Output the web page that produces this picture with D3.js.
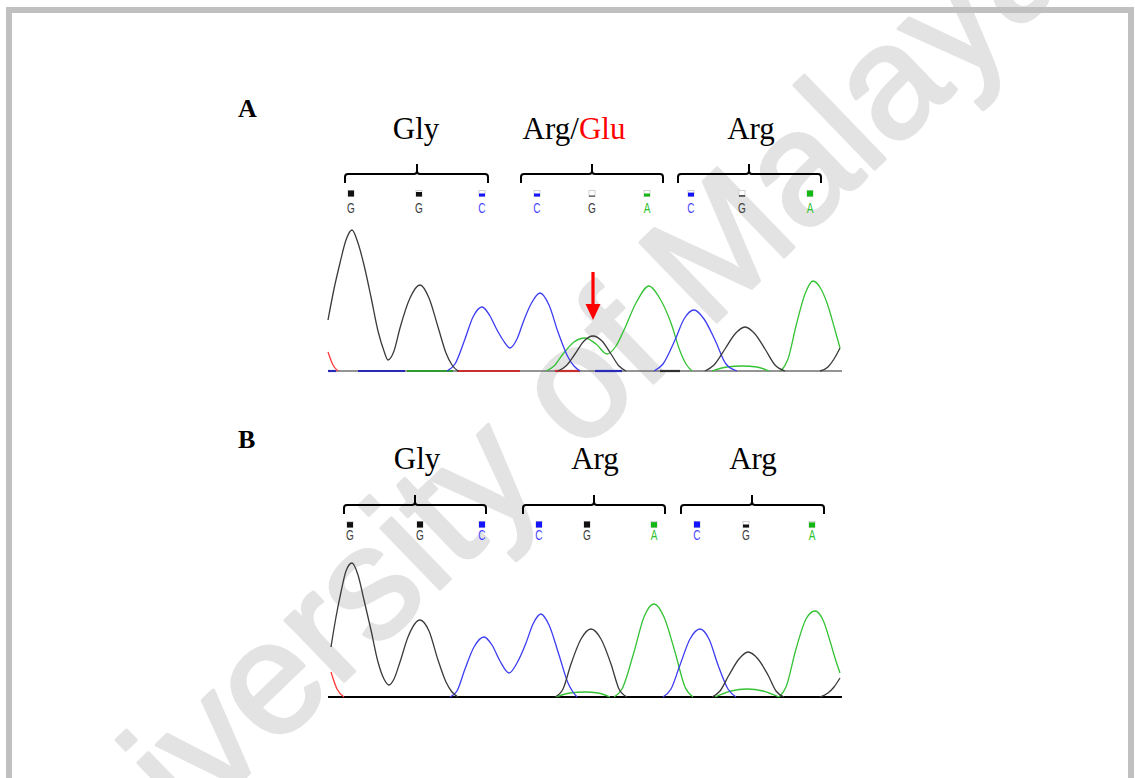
<!DOCTYPE html>
<html><head><meta charset="utf-8">
<script src="https://cdn.jsdelivr.net/npm/d3@7"></script>
<style>html,body{margin:0;padding:0;background:#fff;} svg{display:block;}</style>
</head><body>
<svg id="chart" width="1135" height="778"></svg>
<script>
// ---- Panel A: heterozygous sample. [scan position, signal] per dye channel, split into peak runs
const blackA = [
  [[0,51],[6,82],[12,108],[18,131],[24,141],[30,128],[36,106],[43,74],[50,40],[56,20],[60,11],[66,20],[72,43],[82,73],[92,86],[101,73],[110,44],[118,18],[124,6],[130,0]],
  [[230,0],[238,5],[247,17],[256,30],[265,35],[274,30],[283,17],[291,5],[298,0]],
  [[377,0],[386,6],[397,22],[407,37],[417,44],[427,37],[437,22],[447,6],[457,0]],
  [[492,0],[500,4],[506,12],[512,23]]
];
const blueA = [
  [[119,0],[127,7],[137,32],[145,54],[154,64],[162,55],[168,43],[175,31],[182,23],[189,32],[196,51],[203,67],[212,78],[221,66],[230,39],[240,14],[246,5],[252,0]],
  [[326,0],[335,7],[347,31],[356,52],[366,61],[376,52],[387,31],[398,7],[409,0]]
];
const greenA = [
  [[218,0],[226,5],[235,17],[246,29],[257,33],[268,27],[279,17],[288,25],[296,41],[308,68],[321,85],[331,74],[343,48],[352,20],[358,7],[364,0]],
  [[384,0],[399,4],[414,5],[429,4],[441,0]],
  [[453,0],[460,12],[468,45],[477,77],[485,90],[493,82],[499,68],[507,41],[512,23]]
];
const redA = [
  [[0,19],[5,6],[10,0]]
];
// flat stretches of each channel lying on the baseline: [from, to]
const baseRunsA = [
  {dye:"blue", runs:[[0,8],[30,77],[267,294]]},
  {dye:"green", runs:[[79,125]]},
  {dye:"red", runs:[[129,192],[227,252]]},
  {dye:"black", runs:[[332,352]]}
];

// ---- Panel B: wild-type sample
const blackB = [
  [[3,50],[8,80],[13,105],[18,126],[24,134],[30,122],[36,97],[43,67],[50,35],[56,18],[61,12],[66,18],[72,35],[80,60],[92,77],[101,66],[110,37],[118,15],[124,5],[130,0]],
  [[227,0],[235,8],[243,33],[253,58],[263,68],[273,58],[283,33],[291,8],[299,0]],
  [[384,0],[392,6],[401,22],[411,38],[420,45],[430,38],[440,22],[448,6],[456,0]],
  [[492,0],[500,4],[506,10],[512,19]]
];
const blueB = [
  [[122,0],[129,6],[137,28],[146,50],[156,60],[164,52],[172,36],[181,24],[189,34],[198,54],[205,73],[213,83],[221,72],[231,42],[240,14],[245,5],[249,0]],
  [[335,0],[343,8],[352,32],[362,58],[372,68],[381,58],[390,32],[400,8],[408,0]]
];
const greenB = [
  [[228,0],[242,4],[257,5],[270,4],[282,0]],
  [[286,0],[294,8],[306,45],[316,80],[326,93],[336,80],[347,45],[357,10],[365,0]],
  [[387,0],[403,6],[419,8],[435,6],[451,0]],
  [[451,0],[458,10],[468,48],[478,78],[487,86],[495,77],[502,56],[507,39],[512,24]]
];
const redB = [
  [[3,25],[9,8],[16,0]]
];

// ---- Base calls: letter, scan position, call quality (0..1)
const basesA = ["G","G","C","C","G","A","C","G","A"];
const basePosA = [23, 91, 154, 209, 264, 319, 363, 414, 482];
const qualA = [1, 0.75, 0.5, 0.5, 0.15, 0.5, 0.65, 0.2, 1];
const basesB = ["G","G","C","C","G","A","C","G","A"];
const basePosB = [22, 92, 154, 211, 259, 326, 369, 418, 484];
const qualB = [0.9, 1, 1, 1, 1, 0.9, 1, 0.5, 0.85];

// ---- Codons: label pieces, bracket span [from, to, centre] in scan positions
const codonsA = [
  {label:[["Gly","#000"]], span:[17,160,89], at:88},
  {label:[["Arg/","#000"],["Glu","#ff0000"]], span:[193,335,264], at:246},
  {label:[["Arg","#000"]], span:[350,493,421], at:423}
];
const codonsB = [
  {label:[["Gly","#000"]], span:[16,158,87], at:89},
  {label:[["Arg","#000"]], span:[195,337,266], at:267},
  {label:[["Arg","#000"]], span:[353,496,424], at:425}
];
// heterozygous position marked with the arrow: [scan position, signal]
const mutationA = [265, 35];

const dyeColor = {black:"#3a3a3a", blue:"#3c3cf2", green:"#34c234", red:"#ff3a3a"};
const baseRunColor = {black:"#303030", blue:"#2a2ab8", green:"#2f9a2f", red:"#c83030"};
const letterColor = {G:"#404040", C:"#4848ff", A:"#2cc02c"};

const svg = d3.select("#chart");
svg.append("rect").attr("width",1135).attr("height",778).attr("fill","#fff");

// watermark
svg.append("text")
  .attr("transform","translate(42,973) rotate(-44)")
  .attr("font-family","'Liberation Sans', Arial, sans-serif")
  .attr("font-size",160)
  .attr("fill","#e3e3e3")
  .attr("stroke","#e3e3e3").attr("stroke-width",3.5).attr("stroke-linejoin","round")
  .text("University of Malaya");

// page frame
svg.append("rect").attr("x",9).attr("y",10).attr("width",1122).attr("height",820)
  .attr("fill","none").attr("stroke","#c0c0c0").attr("stroke-width",6);

const x = d3.scaleLinear().domain([0,514]).range([328,842]);
const yA = d3.scaleLinear().domain([0,150]).range([371,221]);
const yB = d3.scaleLinear().domain([0,150]).range([697,547]);

function drawPanel(opt){
  const g = svg.append("g");
  const y = opt.y;
  const line = d3.line().x(d=>x(d[0])).y(d=>y(d[1])).curve(d3.curveMonotoneX);

  // baseline
  g.append("line").attr("x1",x(0)).attr("x2",x(514)).attr("y1",y(0)).attr("y2",y(0))
    .attr("stroke",opt.baseColor).attr("stroke-width",opt.baseWidth);
  (opt.baseRuns||[]).forEach(r=>{
    r.runs.forEach(s=>{
      g.append("line").attr("x1",x(s[0])).attr("x2",x(s[1])).attr("y1",y(0)).attr("y2",y(0))
        .attr("stroke",baseRunColor[r.dye]).attr("stroke-width",2.2);
    });
  });

  // traces
  [["red",opt.red],["green",opt.green],["blue",opt.blue],["black",opt.black]].forEach(([dye,runs])=>{
    g.selectAll(null).data(runs).enter().append("path")
      .attr("d",line).attr("fill","none")
      .attr("stroke",dyeColor[dye]).attr("stroke-width",1.3);
  });

  // base call markers and letters
  opt.bases.forEach((b,i)=>{
    const cx = x(opt.pos[i]);
    const col = b==="G" ? "#111" : (b==="C" ? "#1414ff" : "#14b814");
    g.append("rect").attr("x",cx-3).attr("y",opt.sqY).attr("width",6).attr("height",6)
      .attr("fill","#fff").attr("stroke","#c8c8c8").attr("stroke-width",0.8);
    const h = 6*opt.qual[i];
    g.append("rect").attr("x",cx-3).attr("y",opt.sqY+6-h).attr("width",6).attr("height",h)
      .attr("fill",col);
    g.append("text").attr("transform",`translate(${cx},${opt.letterY}) scale(0.72,1)`)
      .attr("text-anchor","middle")
      .attr("font-family","'Liberation Sans', Arial, sans-serif").attr("font-size",14)
      .attr("fill",letterColor[b]).text(b);
  });

  // codon brackets and amino-acid labels
  opt.codons.forEach(c=>{
    const [a,bEnd,m] = c.span.map(x);
    const t = opt.brTop, e = opt.brTop+9, k = opt.brTop-10;
    const p = `M${a},${e} L${a},${t+3} Q${a},${t} ${a+3},${t} L${m-3},${t} Q${m},${t} ${m},${t-3} L${m},${k} M${m},${t-3} Q${m},${t} ${m+3},${t} L${bEnd-3},${t} Q${bEnd},${t} ${bEnd},${t+3} L${bEnd},${e}`;
    g.append("path").attr("d",p).attr("fill","none").attr("stroke","#000").attr("stroke-width",2);
    const tx = g.append("text").attr("x",x(c.at)).attr("y",opt.labelY)
      .attr("text-anchor","middle")
      .attr("font-family","'Liberation Serif','Times New Roman',serif").attr("font-size",31);
    c.label.forEach(([s,col])=>tx.append("tspan").attr("fill",col).text(s));
  });

  // panel letter
  g.append("text").attr("x",238).attr("y",opt.tagY)
    .attr("font-family","'Liberation Serif','Times New Roman',serif")
    .attr("font-weight","bold").attr("font-size",26).text(opt.tag);
  return g;
}

drawPanel({y:yA, black:blackA, blue:blueA, green:greenA, red:redA, baseRuns:baseRunsA,
  baseColor:"#707070", baseWidth:1.6, bases:basesA, pos:basePosA, qual:qualA,
  sqY:190.5, letterY:213, codons:codonsA, brTop:174, labelY:139, tag:"A", tagY:117});
drawPanel({y:yB, black:blackB, blue:blueB, green:greenB, red:redB, baseRuns:[],
  baseColor:"#000", baseWidth:2, bases:basesB, pos:basePosB, qual:qualB,
  sqY:521.5, letterY:540, codons:codonsB, brTop:505, labelY:469, tag:"B", tagY:448});

// arrow pointing at the double peak
const ax = x(mutationA[0]);
const tip = yA(mutationA[1]) - 16;
svg.append("line").attr("x1",ax).attr("x2",ax).attr("y1",tip-48).attr("y2",tip-14)
  .attr("stroke","#ff0000").attr("stroke-width",3.2);
svg.append("path").attr("d",`M${ax-7.5},${tip-16} L${ax+7.5},${tip-16} L${ax},${tip} Z`).attr("fill","#ff0000");
</script>
</body></html>
